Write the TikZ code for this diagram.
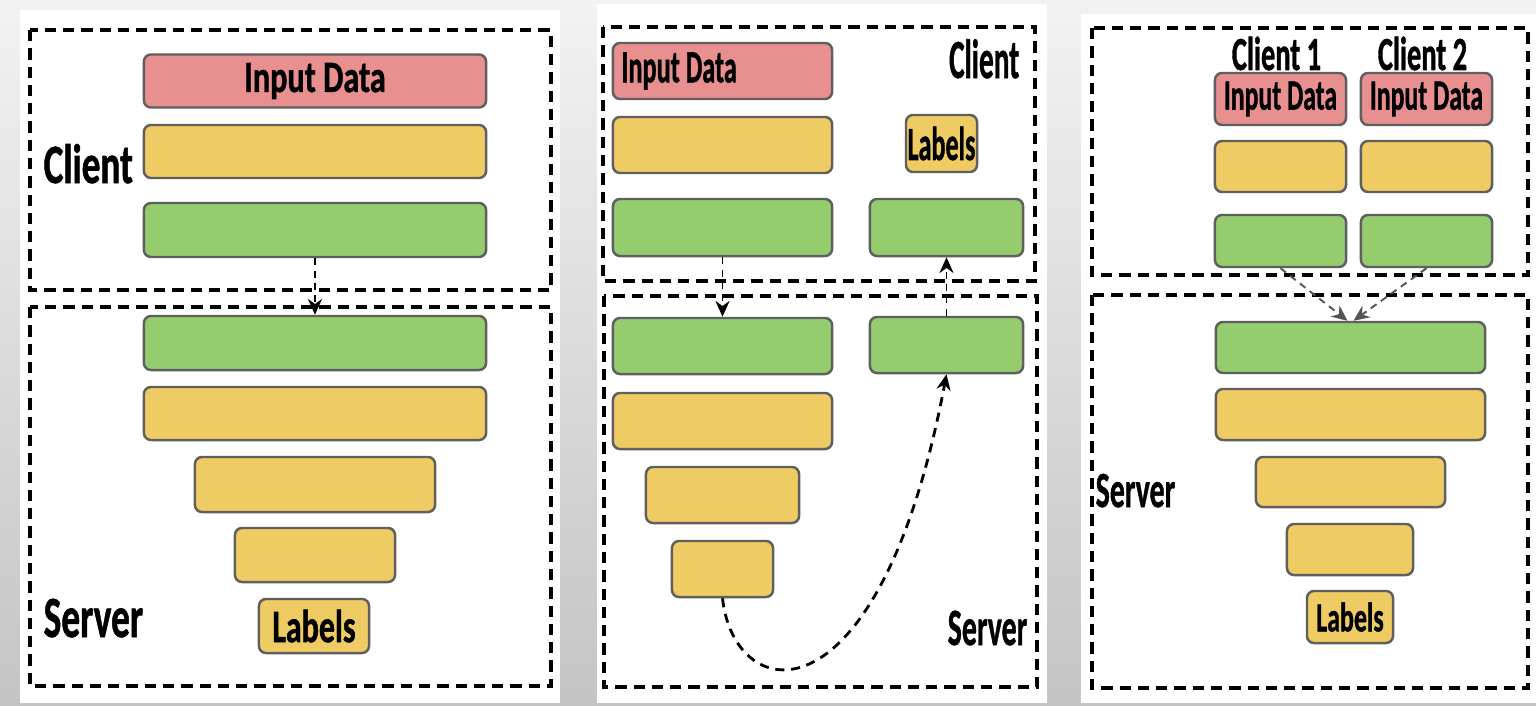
\documentclass[tikz,border=0pt]{standalone}
\usepackage{fontspec}
\setmainfont{Carlito}[BoldFeatures={FakeBold=1.2}]
\usepackage{xcolor}
\definecolor{inred}{RGB}{232,143,143}
\definecolor{lyellow}{RGB}{239,203,99}
\definecolor{lgreen}{RGB}{149,205,110}
\definecolor{edge}{RGB}{95,95,95}
\definecolor{bgtop}{RGB}{242,242,242}
\definecolor{bgbot}{RGB}{196,196,196}
\definecolor{arrgray}{RGB}{85,85,85}
\usetikzlibrary{arrows.meta,positioning}
\newcommand{\nar}[2]{\scalebox{#1}[1]{#2}}

\begin{document}
\begin{tikzpicture}[x=0.01cm,y=-0.01cm,
        layer/.style={draw=edge,line width=0.7pt,rounded corners=2pt,inner sep=0pt},
        inlay/.style={layer,fill=inred},
        hidlay/.style={layer,fill=lyellow},
        cutlay/.style={layer,fill=lgreen},
        part/.style={draw=black,line width=0.95pt,dash pattern=on 3.2pt off 2pt},
        flow/.style={draw=black,line width=0.55pt,dash pattern=on 2pt off 1.5pt,-{Stealth[length=4.5pt,width=4pt]}},
        txt/.style={inner sep=0pt}]
    \useasboundingbox (0,0) rectangle (1536,706);
    \shade[top color=bgtop,bottom color=bgbot] (0,0) rectangle (1536,706);
    \fill[white] (20,10) rectangle (560,703);
    \fill[white] (597,4) rectangle (1047,703);
    \fill[white] (1081,14) rectangle (1536,703);

    % (a) split at the cut layer
    \begin{scope}
        \draw[part] (30,30) rectangle (551,290);
        \draw[part] (30,307) rectangle (551,686);
        \node[inlay,minimum width=3.42cm,minimum height=.53cm,font={\fontsize{12.7}{14}\selectfont\bfseries}] (in1) at (315,81) {\nar{.72}{Input Data}};
        \node[hidlay,minimum width=3.42cm,minimum height=.53cm] (y1a) at (315,151.5) {};
        \node[cutlay,minimum width=3.42cm,minimum height=.54cm] (g1a) at (315,230) {};
        \node[cutlay,minimum width=3.42cm,minimum height=.54cm] (g1b) at (315,343) {};
        \node[hidlay,minimum width=3.42cm,minimum height=.53cm] (y1b) at (315,413.5) {};
        \node[hidlay,minimum width=2.40cm,minimum height=.55cm] (y1c) at (315,484.5) {};
        \node[hidlay,minimum width=1.60cm,minimum height=.54cm] (y1d) at (315,555) {};
        \node[hidlay,minimum width=1.10cm,minimum height=.54cm,font={\fontsize{13.2}{15}\selectfont\bfseries}] (lab1) at (314,626) {\nar{.69}{Labels}};
        \node[txt,anchor=base west,font={\fontsize{15.8}{18}\selectfont\bfseries}] (cl1) at (43,183) {\nar{.67}{Client}};
        \node[txt,anchor=base west,font={\fontsize{16.6}{19}\selectfont\bfseries}] (sv1) at (43,637) {\nar{.64}{Server}};
        \draw[flow] (g1a.south) -- (g1b.north);
    \end{scope}

    % (b) labels kept on the client
    \begin{scope}
        \draw[part] (603,27) rectangle (1035,281);
        \draw[part] (604,296) rectangle (1037,687);
        \node[inlay,minimum width=2.19cm,minimum height=.56cm,
            label={[txt,anchor=west,xshift=0.09cm,font={\fontsize{13.1}{15}\selectfont\bfseries}]west:\nar{.57}{Input Data}}] (in2) at (722.5,71) {};
        \node[hidlay,minimum width=2.19cm,minimum height=.56cm] (y2a) at (722.5,145) {};
        \node[cutlay,minimum width=2.19cm,minimum height=.57cm] (g2a) at (722.5,227.5) {};
        \node[hidlay,minimum width=.71cm,minimum height=.57cm,font={\fontsize{13.5}{15}\selectfont\bfseries}] (lab2) at (941.5,143.5) {\nar{.55}{Labels}};
        \node[cutlay,minimum width=1.53cm,minimum height=.57cm] (g2r1) at (946.5,227.5) {};
        \node[cutlay,minimum width=2.19cm,minimum height=.56cm] (g2b) at (722.5,346) {};
        \node[cutlay,minimum width=1.53cm,minimum height=.56cm] (g2r2) at (946.5,345) {};
        \node[hidlay,minimum width=2.19cm,minimum height=.56cm] (y2b) at (722.5,421) {};
        \node[hidlay,minimum width=1.53cm,minimum height=.56cm] (y2c) at (722.5,495) {};
        \node[hidlay,minimum width=1.01cm,minimum height=.56cm] (y2d) at (722.5,569) {};
        \node[txt,anchor=base east,font={\fontsize{15.7}{18}\selectfont\bfseries}] (cl2) at (1020,78) {\nar{.53}{Client}};
        \node[txt,anchor=base east,font={\fontsize{14.9}{17}\selectfont\bfseries}] (sv2) at (1028,645) {\nar{.57}{Server}};
        \draw[flow] (g2a.south) -- (g2b.north);
        \draw[flow] (g2r2.north) -- (g2r1.south);
        \draw[flow,line width=0.8pt,dash pattern=on 2.6pt off 1.9pt] (y2d.south) .. controls +(12,110) and +(-67,355) .. (g2r2.south);
    \end{scope}

    % (c) two clients, one server
    \begin{scope}
        \draw[part] (1092,28) rectangle (1528,275);
        \draw[part] (1092,295) rectangle (1528,688);
        \foreach \cx/\k in {1280.5/1,1426.5/2} {
            \node[inlay,minimum width=1.31cm,minimum height=.52cm,font={\fontsize{12.2}{14}\selectfont\bfseries}] (in3\k) at (\cx,99) {\nar{.60}{Input Data}};
            \node[hidlay,minimum width=1.31cm,minimum height=.51cm] (y3\k) at (\cx,166.5) {};
            \node[cutlay,minimum width=1.31cm,minimum height=.52cm] (g3\k) at (\cx,241) {};
            \node[txt,anchor=base,font={\fontsize{13.5}{15}\selectfont\bfseries}] (cl3\k) at (\cx-4,70) {\nar{.60}{Client \k}};
        }
        \node[cutlay,minimum width=2.69cm,minimum height=.51cm] (g3s) at (1350.5,347.5) {};
        \node[hidlay,minimum width=2.69cm,minimum height=.51cm] (y3s1) at (1350.5,414.5) {};
        \node[hidlay,minimum width=1.89cm,minimum height=.50cm] (y3s2) at (1350.5,482) {};
        \node[hidlay,minimum width=1.26cm,minimum height=.51cm] (y3s3) at (1350,549.5) {};
        \node[hidlay,minimum width=.86cm,minimum height=.52cm,font={\fontsize{11.7}{13}\selectfont\bfseries}] (lab3) at (1350,617) {\nar{.63}{Labels}};
        \node[txt,anchor=base west,font={\fontsize{14.4}{16}\selectfont\bfseries}] (sv3) at (1095,507) {\nar{.59}{Server}};
        \draw[flow,draw=arrgray] (g31.south) -- ([xshift=-0.03cm]g3s.north);
        \draw[flow,draw=arrgray] (g32.south) -- ([xshift=0.03cm]g3s.north);
    \end{scope}
\end{tikzpicture}
\end{document}
